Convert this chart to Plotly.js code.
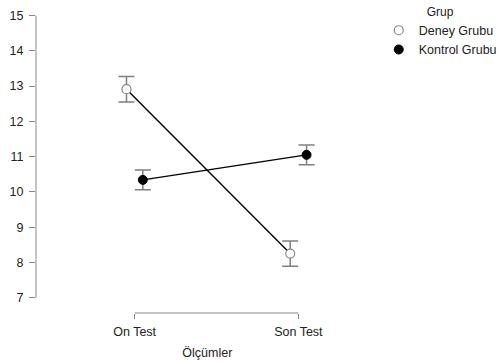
<!DOCTYPE html>
<html>
<head>
<meta charset="utf-8">
<script src="https://cdn.plot.ly/plotly-3.0.1.min.js"></script>
<style>html,body{margin:0;padding:0;background:#fff;}#chart{width:501px;height:361px;}</style>
</head>
<body>
<div id="chart"></div>
<script>
// Data
const categories = ["On Test", "Son Test"];
const groupNames = ["Deney Grubu", "Kontrol Grubu"];
const deneyMeans = [12.91, 8.25];
const deneyErr = [0.36, 0.36];
const kontrolMeans = [10.34, 11.05];
const kontrolErr = [0.28, 0.28];
const yTicks = [7, 8, 9, 10, 11, 12, 13, 14, 15];

// dodge offsets (style)
const dodge = 0.05;
const idx = categories.map((c, i) => i);
const xDeney = idx.map(i => i - dodge);
const xKontrol = idx.map(i => i + dodge);

const font = "Liberation Sans, Arial, sans-serif";
const errColor = "#7f7f7f";

const traces = [
  {x: xDeney, y: deneyMeans, mode: "lines", line: {color: "#000", width: 1.4}, showlegend: false, hoverinfo: "skip"},
  {x: xKontrol, y: kontrolMeans, mode: "lines", line: {color: "#000", width: 1.4}, showlegend: false, hoverinfo: "skip"},
  {x: xDeney, y: deneyMeans, mode: "markers", name: groupNames[0],
   marker: {symbol: "circle", size: 9, color: "#fff", line: {color: "#888", width: 1.2}},
   error_y: {type: "data", array: deneyErr, color: errColor, thickness: 1.5, width: 8}},
  {x: xKontrol, y: kontrolMeans, mode: "markers", name: groupNames[1],
   marker: {symbol: "circle", size: 9, color: "#000", line: {color: "#000", width: 1}},
   error_y: {type: "data", array: kontrolErr, color: errColor, thickness: 1.5, width: 8}}
];

const layout = {
  width: 501, height: 361,
  margin: {l: 36, r: 121, t: 10, b: 48, pad: 0},
  paper_bgcolor: "#fff", plot_bgcolor: "#fff",
  font: {family: font, size: 12.5, color: "#222"},
  xaxis: {
    range: [-0.6026, 1.491], showgrid: false, zeroline: false, showline: false,
    tickmode: "array", tickvals: idx, ticktext: categories,
    ticks: "outside", ticklen: 5, tickcolor: "#888", tickwidth: 1,
    ticklabelstandoff: 2,
    tickfont: {size: 12.5, color: "#222"},
    title: {text: "Ölçümler", font: {size: 12.5, color: "#222"}, standoff: 10},
    automargin: false
  },
  yaxis: {
    range: [6.566, 15.156], showgrid: false, zeroline: false, showline: false,
    tickmode: "array", tickvals: yTicks,
    ticks: "outside", ticklen: 6, tickcolor: "#888", tickwidth: 1,
    ticklabelstandoff: 3,
    tickfont: {size: 12.5, color: "#222"},
    automargin: false
  },
  shapes: [
    {type: "line", xref: "x", yref: "paper", x0: idx[0], x1: idx[idx.length - 1], y0: 0, y1: 0, line: {color: "#888", width: 1}},
    {type: "line", xref: "paper", yref: "y", x0: 0, x1: 0, y0: yTicks[0], y1: yTicks[yTicks.length - 1], line: {color: "#888", width: 1}}
  ],
  showlegend: true,
  legend: {
    xref: "container", yref: "container",
    x: 0.756, y: 1.017, xanchor: "left", yanchor: "top",
    title: {text: "Grup", side: "top center", font: {size: 12}},
    font: {size: 12.5, color: "#222"}, bgcolor: "rgba(0,0,0,0)", itemwidth: 30
  }
};

Plotly.newPlot("chart", traces, layout, {staticPlot: true, displayModeBar: false});
</script>
</body>
</html>
